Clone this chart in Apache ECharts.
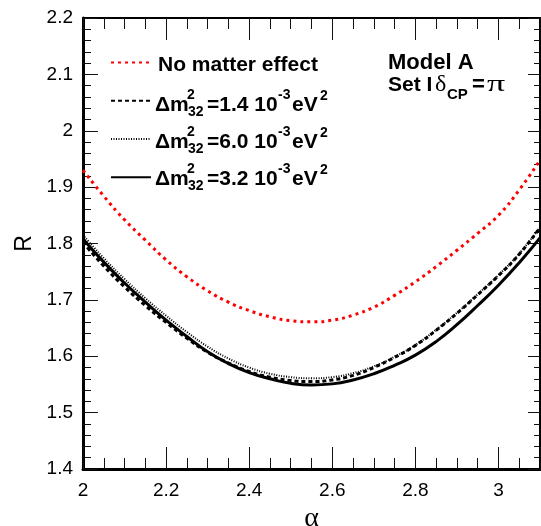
<!DOCTYPE html>
<html>
<head>
<meta charset="utf-8">
<script src="https://cdn.jsdelivr.net/npm/echarts@6/dist/echarts.min.js"></script>
<style>
html,body{margin:0;padding:0;background:#fff;}
#c{width:541px;height:526px;}
</style>
</head>
<body>
<div id="c"></div>
<script>
const alpha = [2.00,2.05,2.10,2.15,2.20,2.25,2.30,2.35,2.40,2.45,2.50,2.55,2.60,2.65,2.70,2.75,2.80,2.85,2.90,2.95,3.00,3.05,3.10];
const rNoMatter = [1.930,1.884,1.842,1.806,1.771,1.741,1.716,1.696,1.681,1.670,1.663,1.661,1.664,1.673,1.687,1.708,1.732,1.759,1.788,1.818,1.850,1.895,1.948];
const rDm14 = [1.802,1.760,1.723,1.690,1.660,1.632,1.607,1.588,1.573,1.563,1.557,1.555,1.558,1.566,1.580,1.598,1.619,1.646,1.676,1.709,1.743,1.781,1.828];
const rDm60 = [1.815,1.774,1.737,1.703,1.672,1.643,1.617,1.596,1.580,1.569,1.563,1.561,1.563,1.570,1.582,1.599,1.620,1.647,1.677,1.710,1.744,1.782,1.829];
const rDm32 = [1.808,1.767,1.730,1.696,1.664,1.635,1.608,1.587,1.571,1.560,1.552,1.549,1.551,1.558,1.569,1.584,1.602,1.626,1.656,1.690,1.726,1.766,1.810];
const xTickLabels = ['2','2.2','2.4','2.6','2.8','3'];
const yTickLabels = ['1.4','1.5','1.6','1.7','1.8','1.9','2','2.1','2.2'];
const seriesNames = ['No matter effect','dm14','dm60','dm32'];

const pairs = (ys) => alpha.map((a, i) => [a, ys[i]]);
const SANS = '"Liberation Sans", Arial, Helvetica, sans-serif';
const SERIF = '"Liberation Serif", "DejaVu Serif", serif';

function fmtLabel(list) {
  return function (v) {
    const s = String(Math.round(v * 1000) / 1000);
    return list.indexOf(s) >= 0 ? s : '';
  };
}

function xAx(pos, interval, len, lineW, labels) {
  return {
    type: 'value', position: pos, min: 2, max: 3.1, interval: interval,
    axisLine: { show: lineW > 0, onZero: false, lineStyle: { color: '#000', width: lineW } },
    axisTick: { show: true, inside: true, length: len, lineStyle: { color: '#111', width: 1 } },
    axisLabel: labels ? { show: true, margin: 12, color: '#000', fontSize: 19, fontFamily: SANS, formatter: fmtLabel(xTickLabels) } : { show: false },
    splitLine: { show: false }
  };
}
function yAx(pos, len, mlen, lineW, labels) {
  return {
    type: 'value', position: pos, min: 1.4, max: 2.2, interval: 0.1,
    axisLine: { show: true, onZero: false, lineStyle: { color: '#000', width: lineW } },
    axisTick: { show: true, inside: true, length: len, lineStyle: { color: '#111', width: 1 } },
    minorTick: { show: true, splitNumber: 5, length: mlen, lineStyle: { color: '#111', width: 1 } },
    axisLabel: labels ? { show: true, margin: 10, color: '#000', fontSize: 19, fontFamily: SANS, formatter: fmtLabel(yTickLabels) } : { show: false },
    splitLine: { show: false }, minorSplitLine: { show: false }
  };
}

const xAxes = [
  xAx('bottom', 0.2, 22, 3, true),
  xAx('bottom', 0.05, 11, 0, false),
  xAx('top', 0.2, 22, 2, false),
  xAx('top', 0.05, 11, 0, false)
];
xAxes[0].name = 'α';
xAxes[0].nameLocation = 'middle';
xAxes[0].nameGap = 36;
xAxes[0].nameTextStyle = { fontSize: 28, fontFamily: SERIF, color: '#000' };

const yAxes = [
  yAx('left', 15, 8, 3, true),
  yAx('right', 12, 6, 2, false)
];
yAxes[0].name = 'R';
yAxes[0].nameLocation = 'middle';
yAxes[0].nameRotate = 90;
yAxes[0].nameGap = 44;
yAxes[0].nameTextStyle = { fontSize: 23, fontFamily: SANS, color: '#000' };

function T(x, base, text, size, font, extra) {
  return Object.assign({
    type: 'text', x: x, y: base - 0.35 * size, silent: true,
    style: { text: text, font: font.replace('%s', size), fill: '#000',
             align: 'left', verticalAlign: 'middle', textAlign: 'left', textVerticalAlign: 'middle' }
  }, extra || {});
}
const B = 'bold %spx ' + SANS;
const N = '%spx ' + SERIF;

const graphics = [];
graphics.push(T(158, 73, 'No matter effect', 21, B));
const rows = [['1.4', 113], ['6.0', 150], ['3.2', 187]];
rows.forEach(([v, b]) => {
  graphics.push(T(155, b, 'Δm', 21, B));
  graphics.push(T(187, b - 13, '2', 14, B));
  graphics.push(T(188, b + 4, '32', 14, B));
  graphics.push(T(207, b, '=' + v + ' 10', 21, B));
  graphics.push(T(278, b - 13, '-3', 14, B));
  graphics.push(T(292, b, 'eV', 21, B));
  graphics.push(T(320, b - 12, '2', 14, B));
});
graphics.push(T(388, 71, 'Model A', 22, B));
graphics.push(T(388, 93, 'Set I', 21, B));
graphics.push(T(435, 93, 'δ', 24, N));
graphics.push(T(447, 100, 'CP', 15, B));
graphics.push(T(472, 93, '=', 22, B));
graphics.push(T(487, 93, 'π', 24, N, { scaleX: 1.5 }));

const chart = echarts.init(document.getElementById('c'), null, { renderer: 'canvas' });
chart.setOption({
  animation: false,
  backgroundColor: '#fff',
  grid: { left: 83, right: 1, top: 18, bottom: 57, containLabel: false, outerBoundsMode: 'none' },
  xAxis: xAxes,
  yAxis: yAxes,
  legend: {
    show: true, orient: 'vertical', left: 110, top: 57, padding: 0,
    itemWidth: 40, itemHeight: 14, itemGap: 27,
    data: seriesNames,
    formatter: () => '',
    textStyle: { fontSize: 8, lineHeight: 8 },
    itemStyle: { opacity: 0 },
    selectedMode: false
  },
  series: [
    { name: seriesNames[0], type: 'line', data: pairs(rNoMatter), smooth: true, symbol: 'none', showSymbol: false,
      lineStyle: { color: '#ff0000', width: 3, type: [3, 4] }, itemStyle: { color: '#ff0000' }, z: 3 },
    { name: seriesNames[1], type: 'line', data: pairs(rDm14), smooth: true, symbol: 'none', showSymbol: false,
      lineStyle: { color: '#000', width: 3, type: [4, 3] }, itemStyle: { color: '#000' }, z: 4 },
    { name: seriesNames[2], type: 'line', data: pairs(rDm60), smooth: true, symbol: 'none', showSymbol: false,
      lineStyle: { color: '#000', width: 2, type: [1, 1.5] }, itemStyle: { color: '#000' }, z: 3 },
    { name: seriesNames[3], type: 'line', data: pairs(rDm32), smooth: true, symbol: 'none', showSymbol: false,
      lineStyle: { color: '#000', width: 3, type: 'solid' }, itemStyle: { color: '#000' }, z: 5 }
  ],
  graphic: graphics
});
</script>
</body>
</html>
